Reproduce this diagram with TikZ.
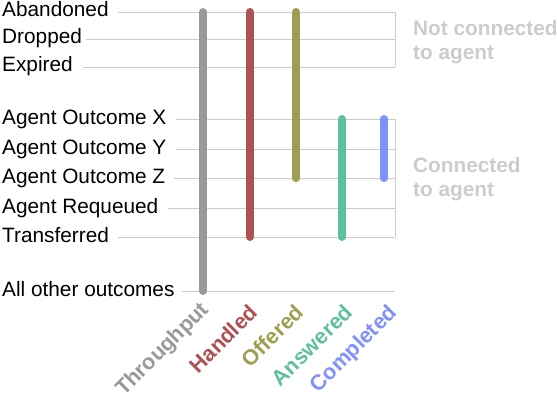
\documentclass[tikz,border=0pt]{standalone}
\usepackage{fontspec}
\setmainfont{Liberation Sans}
\usetikzlibrary{positioning}

\definecolor{gridgray}{HTML}{CCCCCC}
\definecolor{throughputc}{HTML}{999999}
\definecolor{handledc}{HTML}{AD5252}
\definecolor{offeredc}{HTML}{9E9E50}
\definecolor{answeredc}{HTML}{5EBF9E}
\definecolor{completedc}{HTML}{8090FF}

\begin{document}
\begin{tikzpicture}[
  x=1pt,y=-1pt,
  outcome/.style={anchor=base west,inner sep=0pt,
                  font=\fontsize{20.8}{24}\selectfont},
  grid/.style={draw=gridgray,line width=1pt},
  bar/.style={line width=8pt,line cap=round},
  metric/.style={anchor=base east,rotate=45,inner sep=0pt,
                 font=\fontsize{21.6}{24}\selectfont\bfseries},
  group/.style={anchor=west,align=left,inner sep=0pt,text=gridgray,
                font=\fontsize{20.8}{24}\selectfont\bfseries}
]
\useasboundingbox (0,0) rectangle (557,397);
% rows
\node[outcome] (ab) at (2,16) {Abandoned};
\node[outcome] (dr) at (2,43) {Dropped};
\node[outcome] (ex) at (2,71) {Expired};
\node[outcome] (ox) at (2,124) {Agent Outcome X};
\node[outcome] (oy) at (2,154) {Agent Outcome Y};
\node[outcome] (oz) at (2,183) {Agent Outcome Z};
\node[outcome] (rq) at (2,213) {Agent Requeued};
\node[outcome] (tr) at (2,242) {Transferred};
\node[outcome] (ao) at (2,296) {All other outcomes};
% right end of grid lines
\coordinate (e1) at (395,12);
\coordinate (e2) at (395,39);
\coordinate (e3) at (395,67);
\coordinate (e4) at (395,119);
\coordinate (e5) at (395,149);
\coordinate (e6) at (395,178);
\coordinate (e7) at (395,208);
\coordinate (e8) at (395,237);
\coordinate (e9) at (395,291);
\draw[grid] (e1 -| ab.east) ++(9,0) -- (e1);
\draw[grid] (e2 -| dr.east) ++(4,0) -- (e2);
\draw[grid] (e3 -| ex.east) ++(10,0) -- (e3);
\draw[grid] (e4 -| ox.east) ++(9,0) -- (e4);
\draw[grid] (e5 -| oy.east) ++(9,0) -- (e5);
\draw[grid] (e6 -| oz.east) ++(9,0) -- (e6);
\draw[grid] (e7 -| rq.east) ++(9,0) -- (e7);
\draw[grid] (e8 -| tr.east) ++(9,0) -- (e8);
\draw[grid] (e9 -| ao.east) ++(7,0) -- (e9);
% brackets
\draw[grid] (e1) -- (e3);
\draw[grid] (e4) -- (e8);
\node[group] (notconn) at (413,42) {Not connected\\to agent};
\node[group] (conn) at (413,179) {Connected\\to agent};
% columns
\coordinate (tp) at (203,0);
\coordinate (hd) at (250,0);
\coordinate (of) at (296,0);
\coordinate (an) at (342,0);
\coordinate (cp) at (384,0);
\draw[bar,throughputc] (tp |- e1) -- (tp |- e9);
\draw[bar,handledc] (hd |- e1) -- (hd |- e8);
\draw[bar,offeredc] (of |- e1) -- (of |- e6);
\draw[bar,answeredc] (an |- e4) -- (an |- e8);
\draw[bar,completedc] (cp |- e4) -- (cp |- e6);
\node[metric,text=throughputc] (tplabel) at (210,311) {Throughput};
\node[metric,text=handledc] (hdlabel) at (259,314) {Handled};
\node[metric,text=offeredc] (oflabel) at (305,314) {Offered};
\node[metric,text=answeredc] (anlabel) at (354,314) {Answered};
\node[metric,text=completedc] (cplabel) at (398,314) {Completed};
\end{tikzpicture}
\end{document}
